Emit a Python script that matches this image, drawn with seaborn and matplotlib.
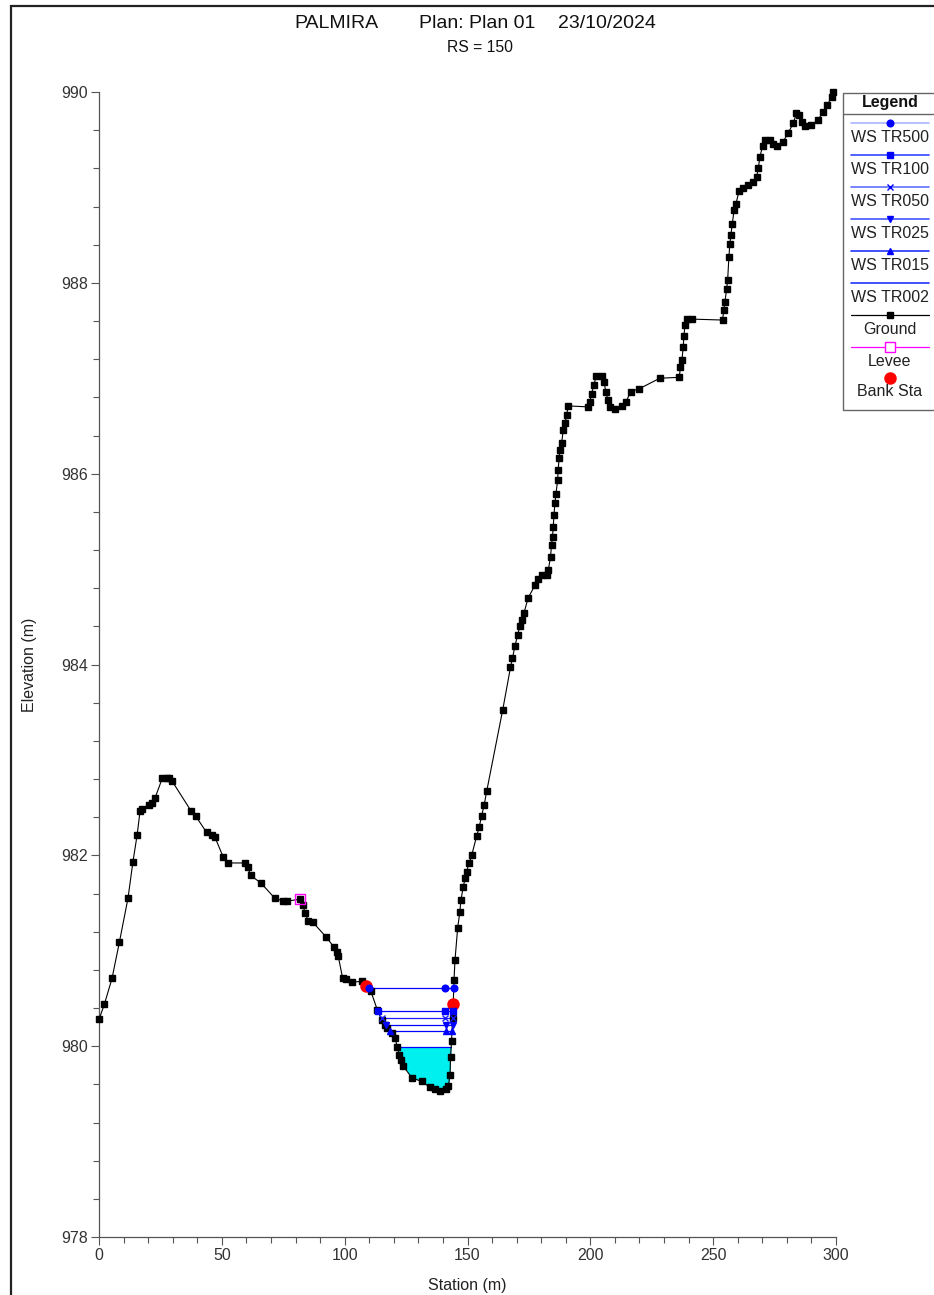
import numpy as np
import pandas as pd
import matplotlib
matplotlib.use("Agg")
import matplotlib.pyplot as plt
import seaborn as sns
from matplotlib.patches import Rectangle
from matplotlib.ticker import MultipleLocator

# ===== Données =====
ground_sta = [
    0.0, 2.2, 5.3, 8.3, 11.8, 13.8, 15.5, 16.7, 17.5, 20.3, 21.4, 22.8, 25.8, 27.5,
    28.6, 29.7, 37.6, 39.4, 43.8, 45.9, 47.2, 50.6, 52.6, 59.4, 60.5, 61.7, 65.9,
    71.6, 75.0, 76.4, 82.0, 83.1, 83.8, 85.2, 87.0, 92.6, 95.6, 96.7, 97.4, 99.2,
    100.6, 102.8, 106.9, 108.5, 110.6, 113.3, 115.1, 116.4, 117.1, 119.1, 120.5,
    121.4, 122.2, 122.9, 123.9, 127.3, 131.3, 134.7, 136.8, 138.8, 141.2, 142.2,
    142.9, 143.1, 143.5, 143.9, 144.2, 144.5, 144.9, 146.0, 146.9, 147.3, 148.3,
    149.0, 149.6, 150.7, 151.7, 153.7, 154.8, 155.7, 156.8, 157.8, 164.3, 167.5,
    168.3, 169.3, 170.4, 171.3, 172.3, 173.0, 174.7, 177.5, 178.8, 180.2, 182.2,
    182.9, 183.8, 184.2, 184.6, 184.9, 185.2, 185.6, 186.0, 186.7, 186.9, 187.3,
    187.6, 188.3, 189.0, 189.7, 190.4, 191.0, 199.1, 199.8, 200.5, 201.5, 202.3,
    204.6, 205.6, 206.3, 207.2, 208.2, 210.0, 212.7, 214.5, 216.4, 219.9, 228.3,
    236.2, 236.7, 237.3, 237.8, 238.1, 238.5, 239.2, 241.2, 253.8, 254.4, 254.8,
    255.5, 255.9, 256.4, 256.8, 257.2, 257.8, 258.5, 259.3, 260.5, 262.2, 264.3,
    266.3, 267.7, 268.4, 269.0, 270.1, 271.1, 273.1, 274.4, 276.1, 278.5, 280.5,
    282.6, 283.9, 285.0, 286.0, 287.3, 290.0, 292.7, 294.8, 296.4, 298.2, 298.8,
]
ground_elev = [
    980.28, 980.44, 980.71, 981.09, 981.55, 981.93, 982.21, 982.46, 982.49, 982.53,
    982.55, 982.60, 982.81, 982.81, 982.81, 982.78, 982.46, 982.41, 982.24, 982.21,
    982.19, 981.98, 981.92, 981.92, 981.88, 981.79, 981.71, 981.55, 981.52, 981.52,
    981.54, 981.48, 981.40, 981.31, 981.30, 981.14, 981.04, 980.99, 980.94, 980.71,
    980.70, 980.67, 980.68, 980.64, 980.58, 980.38, 980.27, 980.22, 980.19, 980.14,
    980.09, 979.99, 979.91, 979.86, 979.79, 979.67, 979.63, 979.57, 979.55, 979.53,
    979.55, 979.58, 979.70, 979.89, 980.05, 980.29, 980.44, 980.69, 980.90, 981.24,
    981.41, 981.53, 981.67, 981.76, 981.83, 981.92, 982.00, 982.20, 982.30, 982.41,
    982.53, 982.67, 983.52, 983.97, 984.07, 984.19, 984.31, 984.40, 984.47, 984.54,
    984.70, 984.83, 984.90, 984.94, 984.94, 984.99, 985.13, 985.25, 985.34, 985.44,
    985.57, 985.69, 985.79, 985.93, 986.04, 986.16, 986.25, 986.32, 986.46, 986.53,
    986.62, 986.71, 986.70, 986.75, 986.84, 986.93, 987.02, 987.02, 986.96, 986.86,
    986.77, 986.70, 986.68, 986.71, 986.75, 986.86, 986.89, 987.00, 987.01, 987.12,
    987.19, 987.33, 987.44, 987.56, 987.62, 987.62, 987.61, 987.72, 987.80, 987.94,
    988.03, 988.27, 988.41, 988.50, 988.62, 988.76, 988.83, 988.96, 988.99, 989.03,
    989.06, 989.11, 989.20, 989.32, 989.43, 989.50, 989.50, 989.46, 989.43, 989.48,
    989.57, 989.67, 989.78, 989.76, 989.69, 989.64, 989.65, 989.71, 989.79, 989.86,
    989.95, 990.00,
]

ws_names = ["WS TR500", "WS TR100", "WS TR050", "WS TR025", "WS TR015", "WS TR002"]
ws_elev = [980.61, 980.37, 980.30, 980.22, 980.16, 979.99]
ws_left = [110.0, 113.6, 115.3, 116.8, 118.3, 121.4]
ws_mid = [140.8, 140.8, 141.0, 141.2, 141.2, None]
ws_right = [144.4, 144.1, 144.0, 143.9, 143.8, 143.4]
ws_markers = ["o", "s", "x", "v", "^", None]
ws_colors = ["#0000ff", "#0000ff", "#1a1aff", "#0000ff", "#0000ff", "#0000ff"]
ws_leg_colors = ["#aab4ff", "#3344ff", "#6070ff", "#4455ff", "#2233ff", "#2233ff"]

bank_sta = [108.8, 144.2]
bank_elev = [980.63, 980.44]
levee_sta = [82.0]
levee_elev = [981.54]

W, H = 934, 1295
FS = 11.5


def fig_box(x0, y0, x1, y1):
    return [x0 / W, 1 - y1 / H, (x1 - x0) / W, (y1 - y0) / H]


def main():
    sns.set_theme(style="white")
    plt.rcParams["font.family"] = ["Liberation Sans", "DejaVu Sans"]

    fig = plt.figure(figsize=(W / 100, H / 100), dpi=100)
    fig.patch.set_facecolor("white")

    # cadre de page
    fig.patches.append(Rectangle((11 / W, -0.1), 1.2, 1 - 6 / H + 0.1,
                                 transform=fig.transFigure, fill=False,
                                 edgecolor="#222222", linewidth=1.6))

    ax = fig.add_axes(fig_box(99, 92, 836, 1237))
    ax.set_facecolor("none")

    df = pd.DataFrame({"sta": ground_sta, "elev": ground_elev})
    gs = np.array(ground_sta)
    ge = np.array(ground_elev)

    # remplissage sous WS TR002
    xs = np.linspace(ws_left[-1], ws_right[-1], 200)
    gi = np.interp(xs, gs, ge)
    ax.fill_between(xs, gi, ws_elev[-1], where=gi <= ws_elev[-1],
                    color="#00f0f0", linewidth=0, zorder=1)

    # lignes d'eau
    for i, name in enumerate(ws_names):
        ax.plot([ws_left[i], ws_right[i]], [ws_elev[i]] * 2,
                color=ws_colors[i], linewidth=0.9, zorder=2)
        if ws_markers[i]:
            pts = [ws_left[i], ws_mid[i], ws_right[i]]
            ax.plot(pts, [ws_elev[i]] * 3, linestyle="none",
                    marker=ws_markers[i], color=ws_colors[i],
                    markersize=4.8, markeredgewidth=1.0, zorder=4)

    # terrain
    sns.lineplot(data=df, x="sta", y="elev", sort=False, estimator=None,
                 color="black", linewidth=0.8, ax=ax, zorder=3)
    ax.plot(gs, ge, linestyle="none", marker="s", color="black",
            markersize=5, zorder=3, clip_on=False)

    ax.plot(levee_sta, levee_elev, linestyle="none", marker="s",
            markerfacecolor="none", markeredgecolor="#ff00ff",
            markersize=7.5, markeredgewidth=1.0, zorder=5)
    ax.plot(bank_sta, bank_elev, linestyle="none", marker="o",
            color="#ff0000", markersize=8, zorder=3.5)

    ax.set_xlim(0, 300)
    ax.set_ylim(978, 990)
    ax.xaxis.set_major_locator(MultipleLocator(50))
    ax.xaxis.set_minor_locator(MultipleLocator(10))
    ax.yaxis.set_major_locator(MultipleLocator(2))
    ax.yaxis.set_minor_locator(MultipleLocator(0.4))
    for side in ["top", "right"]:
        ax.spines[side].set_visible(False)
    for side in ["left", "bottom"]:
        ax.spines[side].set_color("#555555")
        ax.spines[side].set_linewidth(0.9)
    ax.tick_params(which="both", direction="out", colors="#555555",
                   labelcolor="#333333", labelsize=FS, width=0.8,
                   left=True, bottom=True)
    ax.tick_params(which="major", length=6, pad=2)
    ax.tick_params(which="minor", length=4)
    ax.set_xlabel("Station (m)", fontsize=FS, color="#222222", labelpad=11)
    ax.set_ylabel("Elevation (m)", fontsize=FS, color="#222222", labelpad=17)
    ax.grid(False)

    ty = 1 - 24 / H
    fig.text(294 / W, ty, "PALMIRA", ha="left", va="center", fontsize=14,
             color="#111111")
    fig.text(419 / W, ty, "Plan: Plan 01", ha="left", va="center", fontsize=14,
             color="#111111")
    fig.text(558 / W, ty, "23/10/2024", ha="left", va="center", fontsize=14,
             color="#111111")
    fig.text(480 / W, 1 - 47 / H, "RS = 150", ha="center", va="center",
             fontsize=11.3, color="#111111")

    # ===== Légende =====
    lx0, ly0, lx1, ly1 = 843, 92, 934, 410
    lg = fig.add_axes(fig_box(lx0, ly0, lx1, ly1))
    lg.set_xlim(lx0, lx1)
    lg.set_ylim(ly1, ly0)
    lg.axis("off")
    lg.add_patch(Rectangle((lx0 + 0.5, ly0 + 0.5), lx1 - lx0 + 5, ly1 - ly0 - 1,
                           fill=False, edgecolor="#666666", linewidth=1.0,
                           clip_on=False))
    lg.plot([lx0, lx1 + 5], [114, 114], color="#666666", linewidth=1.0,
            clip_on=False)
    lg.text(890, 102, "Legend", ha="center", va="center", fontsize=FS,
            fontweight="bold", color="#111111")
    xl = [851, 929]
    cx = 890
    for i, name in enumerate(ws_names):
        yl = 123 + 32 * i
        lg.plot(xl, [yl, yl], color=ws_leg_colors[i], linewidth=1.2)
        if ws_markers[i]:
            lg.plot([cx], [yl], marker=ws_markers[i], color="#0000ff",
                    markersize=4.8, markeredgewidth=1.0)
        lg.text(cx, yl + 15, name, ha="center", va="center", fontsize=FS,
                color="#222222")
    yl = 123 + 32 * 6
    lg.plot(xl, [yl, yl], color="black", linewidth=0.9)
    lg.plot([cx], [yl], marker="s", color="black", markersize=5)
    lg.text(cx, yl + 14, "Ground", ha="center", va="center", fontsize=FS,
            color="#222222")
    yl = 123 + 32 * 7
    lg.plot(xl, [yl, yl], color="#ff00ff", linewidth=0.9)
    lg.plot([cx], [yl], marker="s", markerfacecolor="white",
            markeredgecolor="#ff00ff", markersize=7.5, markeredgewidth=1.0)
    lg.text(cx, yl + 14, "Levee", ha="center", va="center", fontsize=FS,
            color="#222222")
    yl = 123 + 32 * 8 - 1
    lg.plot([cx], [yl], marker="o", color="#ff0000", markersize=8)
    lg.text(cx, yl + 14, "Bank Sta", ha="center", va="center", fontsize=FS,
            color="#222222")

    fig.savefig("out.png", dpi=100)
    plt.close(fig)


if __name__ == "__main__":
    main()
